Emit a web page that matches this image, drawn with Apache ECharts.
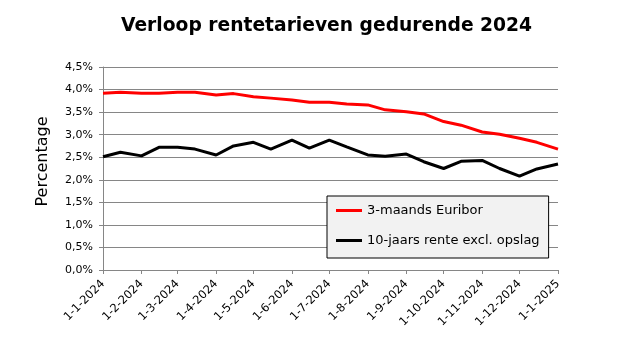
<!DOCTYPE html>
<html>
<head>
<meta charset="utf-8">
<script src="https://cdn.jsdelivr.net/npm/echarts@6/dist/echarts.min.js"></script>
<style>html,body{margin:0;padding:0;background:#fff}#c{width:636px;height:360px}</style>
</head>
<body>
<div id="c"></div>
<script>
// Semi-monthly observation dates (d-m-yyyy)
var dates = ['1-1-2024','15-1-2024','1-2-2024','15-2-2024','1-3-2024','15-3-2024','1-4-2024','15-4-2024',
  '1-5-2024','15-5-2024','1-6-2024','15-6-2024','1-7-2024','15-7-2024','1-8-2024','15-8-2024',
  '1-9-2024','15-9-2024','1-10-2024','15-10-2024','1-11-2024','15-11-2024','1-12-2024','15-12-2024','1-1-2025'];
var euribor = [3.92,3.94,3.92,3.92,3.94,3.94,3.88,3.91,3.84,3.81,3.77,3.72,3.72,3.68,3.66,3.55,3.51,3.46,3.29,3.21,3.06,3.01,2.92,2.83,2.68];
var rente10 = [2.51,2.61,2.53,2.72,2.72,2.68,2.55,2.75,2.83,2.68,2.88,2.70,2.88,2.73,2.55,2.52,2.57,2.40,2.25,2.41,2.43,2.25,2.08,2.24,2.35];
var tickLabels = ['1-1-2024','1-2-2024','1-3-2024','1-4-2024','1-5-2024','1-6-2024','1-7-2024',
  '1-8-2024','1-9-2024','1-10-2024','1-11-2024','1-12-2024','1-1-2025'];
var seriesNames = ['3-maands Euribor','10-jaars rente excl. opslag'];

function dayOf(s){
  var p = s.split('-');
  return Math.round((Date.UTC(+p[2], +p[1]-1, +p[0]) - Date.UTC(2024,0,1)) / 86400000);
}
var tickDays = tickLabels.map(dayOf);
var labelByDay = {};
tickLabels.forEach(function(t){ labelByDay[dayOf(t)] = t; });
function pairs(vals){ return vals.map(function(v,i){ return [dayOf(dates[i]), v]; }); }

var FONT = 'DejaVu Sans';
var chart = echarts.init(document.getElementById('c'), null, {renderer:'canvas'});
chart.setOption({
  animation:false,
  backgroundColor:'#fff',
  title:{text:'Verloop rentetarieven gedurende 2024', left:116, top:12,
    textStyle:{fontFamily:FONT, fontSize:18.7, fontWeight:'bold', color:'#000'}},
  grid:{left:103, right:78, top:67, bottom:90, containLabel:false},
  xAxis:{type:'value', min:0, max:tickDays[tickDays.length-1],
    axisLine:{show:true, lineStyle:{color:'#868686', width:1}},
    axisTick:{show:true, customValues:tickDays, length:4, lineStyle:{color:'#868686'}},
    axisLabel:{customValues:tickDays, rotate:45, margin:12, fontFamily:FONT, fontSize:11.5, color:'#000',
      formatter:function(v){ return labelByDay[v] || ''; }},
    splitLine:{show:false}},
  yAxis:{type:'value', min:0, max:4.5, interval:0.5,
    name:'Percentage', nameLocation:'middle', nameGap:52,
    nameTextStyle:{fontFamily:FONT, fontSize:16, color:'#000', padding:[0,0,0,14]},
    axisLine:{show:true, lineStyle:{color:'#868686', width:1}},
    axisTick:{show:true, length:4, lineStyle:{color:'#868686'}},
    axisLabel:{margin:10, fontFamily:FONT, fontSize:11, color:'#000',
      formatter:function(v){ return v.toFixed(1).replace('.',',') + '%'; }},
    splitLine:{show:true, lineStyle:{color:'#868686', width:1}}},
  legend:{left:327, top:196, orient:'vertical', itemGap:17, padding:[8,9,11,9],
    backgroundColor:'#f2f2f2', borderColor:'#000', borderWidth:1, borderRadius:0,
    itemWidth:26, itemHeight:3, icon:'rect',
    textStyle:{fontFamily:FONT, fontSize:13, color:'#000'},
    data:seriesNames},
  series:[
    {name:seriesNames[0], type:'line', data:pairs(euribor), showSymbol:false, symbol:'none',
      lineStyle:{color:'#ff0000', width:3}, itemStyle:{color:'#ff0000'}},
    {name:seriesNames[1], type:'line', data:pairs(rente10), showSymbol:false, symbol:'none',
      lineStyle:{color:'#000000', width:3}, itemStyle:{color:'#000000'}}
  ]
});
</script>
</body>
</html>
